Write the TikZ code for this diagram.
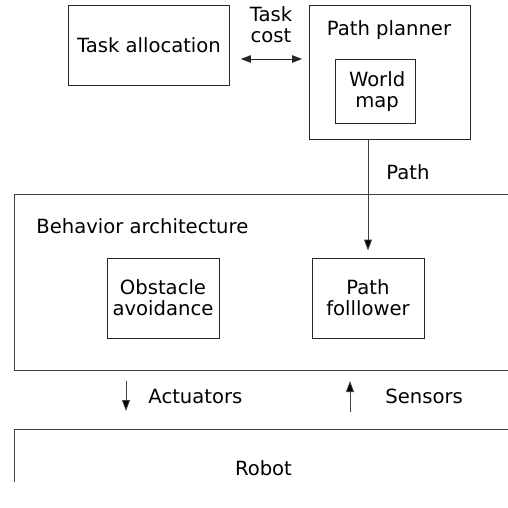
\documentclass[tikz,border=0pt]{standalone}
\usepackage{fontspec}
\setmainfont{DejaVu Sans}
\usetikzlibrary{arrows.meta}
\begin{document}
\begin{tikzpicture}[x=1pt,y=-1pt,line width=0.9pt,
  font=\fontsize{19.6}{21}\selectfont,
  box/.style={draw=black!85,inner sep=0pt,align=center},
  txt/.style={anchor=west,inner sep=0pt},
  tip/.style={draw=black!75,-{Triangle[length=11pt,width=8pt,fill=black]}},
  tipboth/.style={draw=black!85,{Triangle[length=10pt,width=7.5pt]}-{Triangle[length=10pt,width=7.5pt]}}]
  \useasboundingbox (0,0) rectangle (508,508);
  \clip (0,0) rectangle (508,508);
  % planning level
  \node[box,minimum width=161pt,minimum height=80pt,anchor=north west] (alloc) at (68,5) {Task allocation};
  \node[box,minimum width=161pt,minimum height=134pt,anchor=north west] (planner) at (309,5) {};
  \node (plantxt) at (389,30) {Path planner};
  \node[box,minimum width=80pt,minimum height=64pt,anchor=north west] (world) at (335,59) {\,World\\\,map};
  \node[align=center] (cost) at (271,25) {Task\\cost};
  \draw[tipboth,shorten <=11pt,shorten >=7pt] (alloc.east |- 0,59) -- (planner.west |- 0,59);
  % behaviors
  \node[box,draw=black!75,minimum width=520pt,minimum height=176pt,anchor=north west] (behav) at (14,194) {};
  \node[txt] (behtxt) at (36,226) {Behavior architecture};
  \node[box,minimum width=112pt,minimum height=80pt] (obst) at (163,298) {Obstacle\\avoidance};
  \node[box,minimum width=112pt,minimum height=80pt] (follow) at (368,298) {Path\\folllower};
  \draw[tip,shorten >=7pt] (planner.south -| follow.north) -- (follow.north);
  \node[txt] (pathtxt) at (386,172) {Path};
  % robot
  \coordinate (act1) at (126,381); \coordinate (act2) at (126,411);
  \coordinate (sen1) at (350,412); \coordinate (sen2) at (350,381);
  \draw[tip] (act1) -- (act2);
  \draw[tip] (sen1) -- (sen2);
  \node[txt] (acttxt) at (148,396) {Actuators};
  \node[txt] (sentxt) at (385,396) {Sensors};
  \begin{scope}
    \clip (0,0) rectangle (508,481);
    \node[box,draw=black!75,minimum width=498pt,minimum height=78pt,anchor=north west] (robot) at (14,429) {Robot};
  \end{scope}
\end{tikzpicture}
\end{document}
